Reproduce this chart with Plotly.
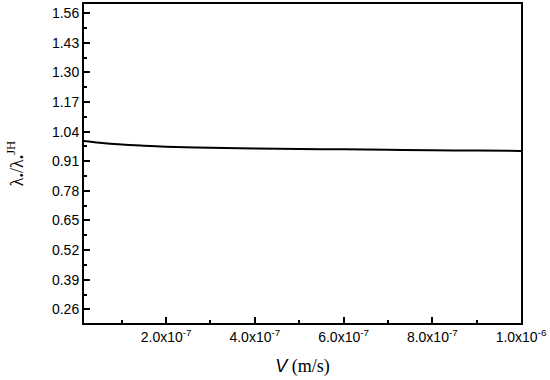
import plotly.graph_objects as go

V = [1.5e-8, 5e-8, 1e-7, 1.5e-7, 2e-7, 3e-7, 4e-7, 5e-7, 6e-7, 7e-7, 8e-7, 9e-7, 1e-6]
ratio = [0.999, 0.991, 0.983, 0.978, 0.974, 0.969, 0.966, 0.964, 0.962, 0.960, 0.958, 0.957, 0.955]

y_ticks = [0.26, 0.39, 0.52, 0.65, 0.78, 0.91, 1.04, 1.17, 1.30, 1.43, 1.56]
y_labels = ["0.26", "0.39", "0.52", "0.65", "0.78", "0.91", "1.04", "1.17", "1.30", "1.43", "1.56"]
x_ticks = [2e-7, 4e-7, 6e-7, 8e-7, 1e-6]
x_labels = ["2.0x10<sup>-7</sup>", "4.0x10<sup>-7</sup>", "6.0x10<sup>-7</sup>",
            "8.0x10<sup>-7</sup>", "1.0x10<sup>-6</sup>"]

fig = go.Figure()
fig.add_trace(go.Scatter(x=V, y=ratio, mode="lines", line=dict(color="black", width=2, shape="spline"),
                         showlegend=False))

fig.update_layout(
    width=550, height=380,
    margin=dict(l=84, r=29, t=4, b=57),
    plot_bgcolor="white", paper_bgcolor="white",
    font=dict(family="Liberation Sans, Arial", size=14, color="black"),
    xaxis=dict(range=[1.5e-8, 1e-6], tickvals=x_ticks, ticktext=x_labels,
               ticks="inside", ticklen=6, tickwidth=2, tickcolor="black",
               showline=True, linecolor="black", linewidth=2, mirror=True,
               showgrid=False, zeroline=False, automargin=False,
               tickfont=dict(size=14),
               minor=dict(tickvals=[1e-7, 3e-7, 5e-7, 7e-7, 9e-7], ticks="inside", ticklen=3,
                          tickwidth=2, tickcolor="black"),
               title=dict(text="<i>V</i><span style='font-family:Liberation Serif, Times New Roman'> (m/s)</span>",
                          font=dict(size=18), standoff=16)),
    yaxis=dict(range=[0.2, 1.6], tickvals=y_ticks, ticktext=y_labels,
               ticks="inside", ticklen=6, tickwidth=2, tickcolor="black",
               showline=True, linecolor="black", linewidth=2, mirror=True,
               showgrid=False, zeroline=False, automargin=False,
               tickfont=dict(size=14),
               minor=dict(tickvals=[0.325, 0.455, 0.585, 0.715, 0.845, 0.975, 1.105, 1.235, 1.365, 1.495],
                          ticks="inside", ticklen=3, tickwidth=2, tickcolor="black"),
               title=dict(text="λ<sub>•</sub>/λ<sub>•</sub><sup>JH</sup>",
                          font=dict(family="Liberation Serif, Times New Roman", size=18), standoff=24)),
)

fig.write_html("out.html", config={"displayModeBar": False},
               post_script="document.body.style.margin='0px';")
